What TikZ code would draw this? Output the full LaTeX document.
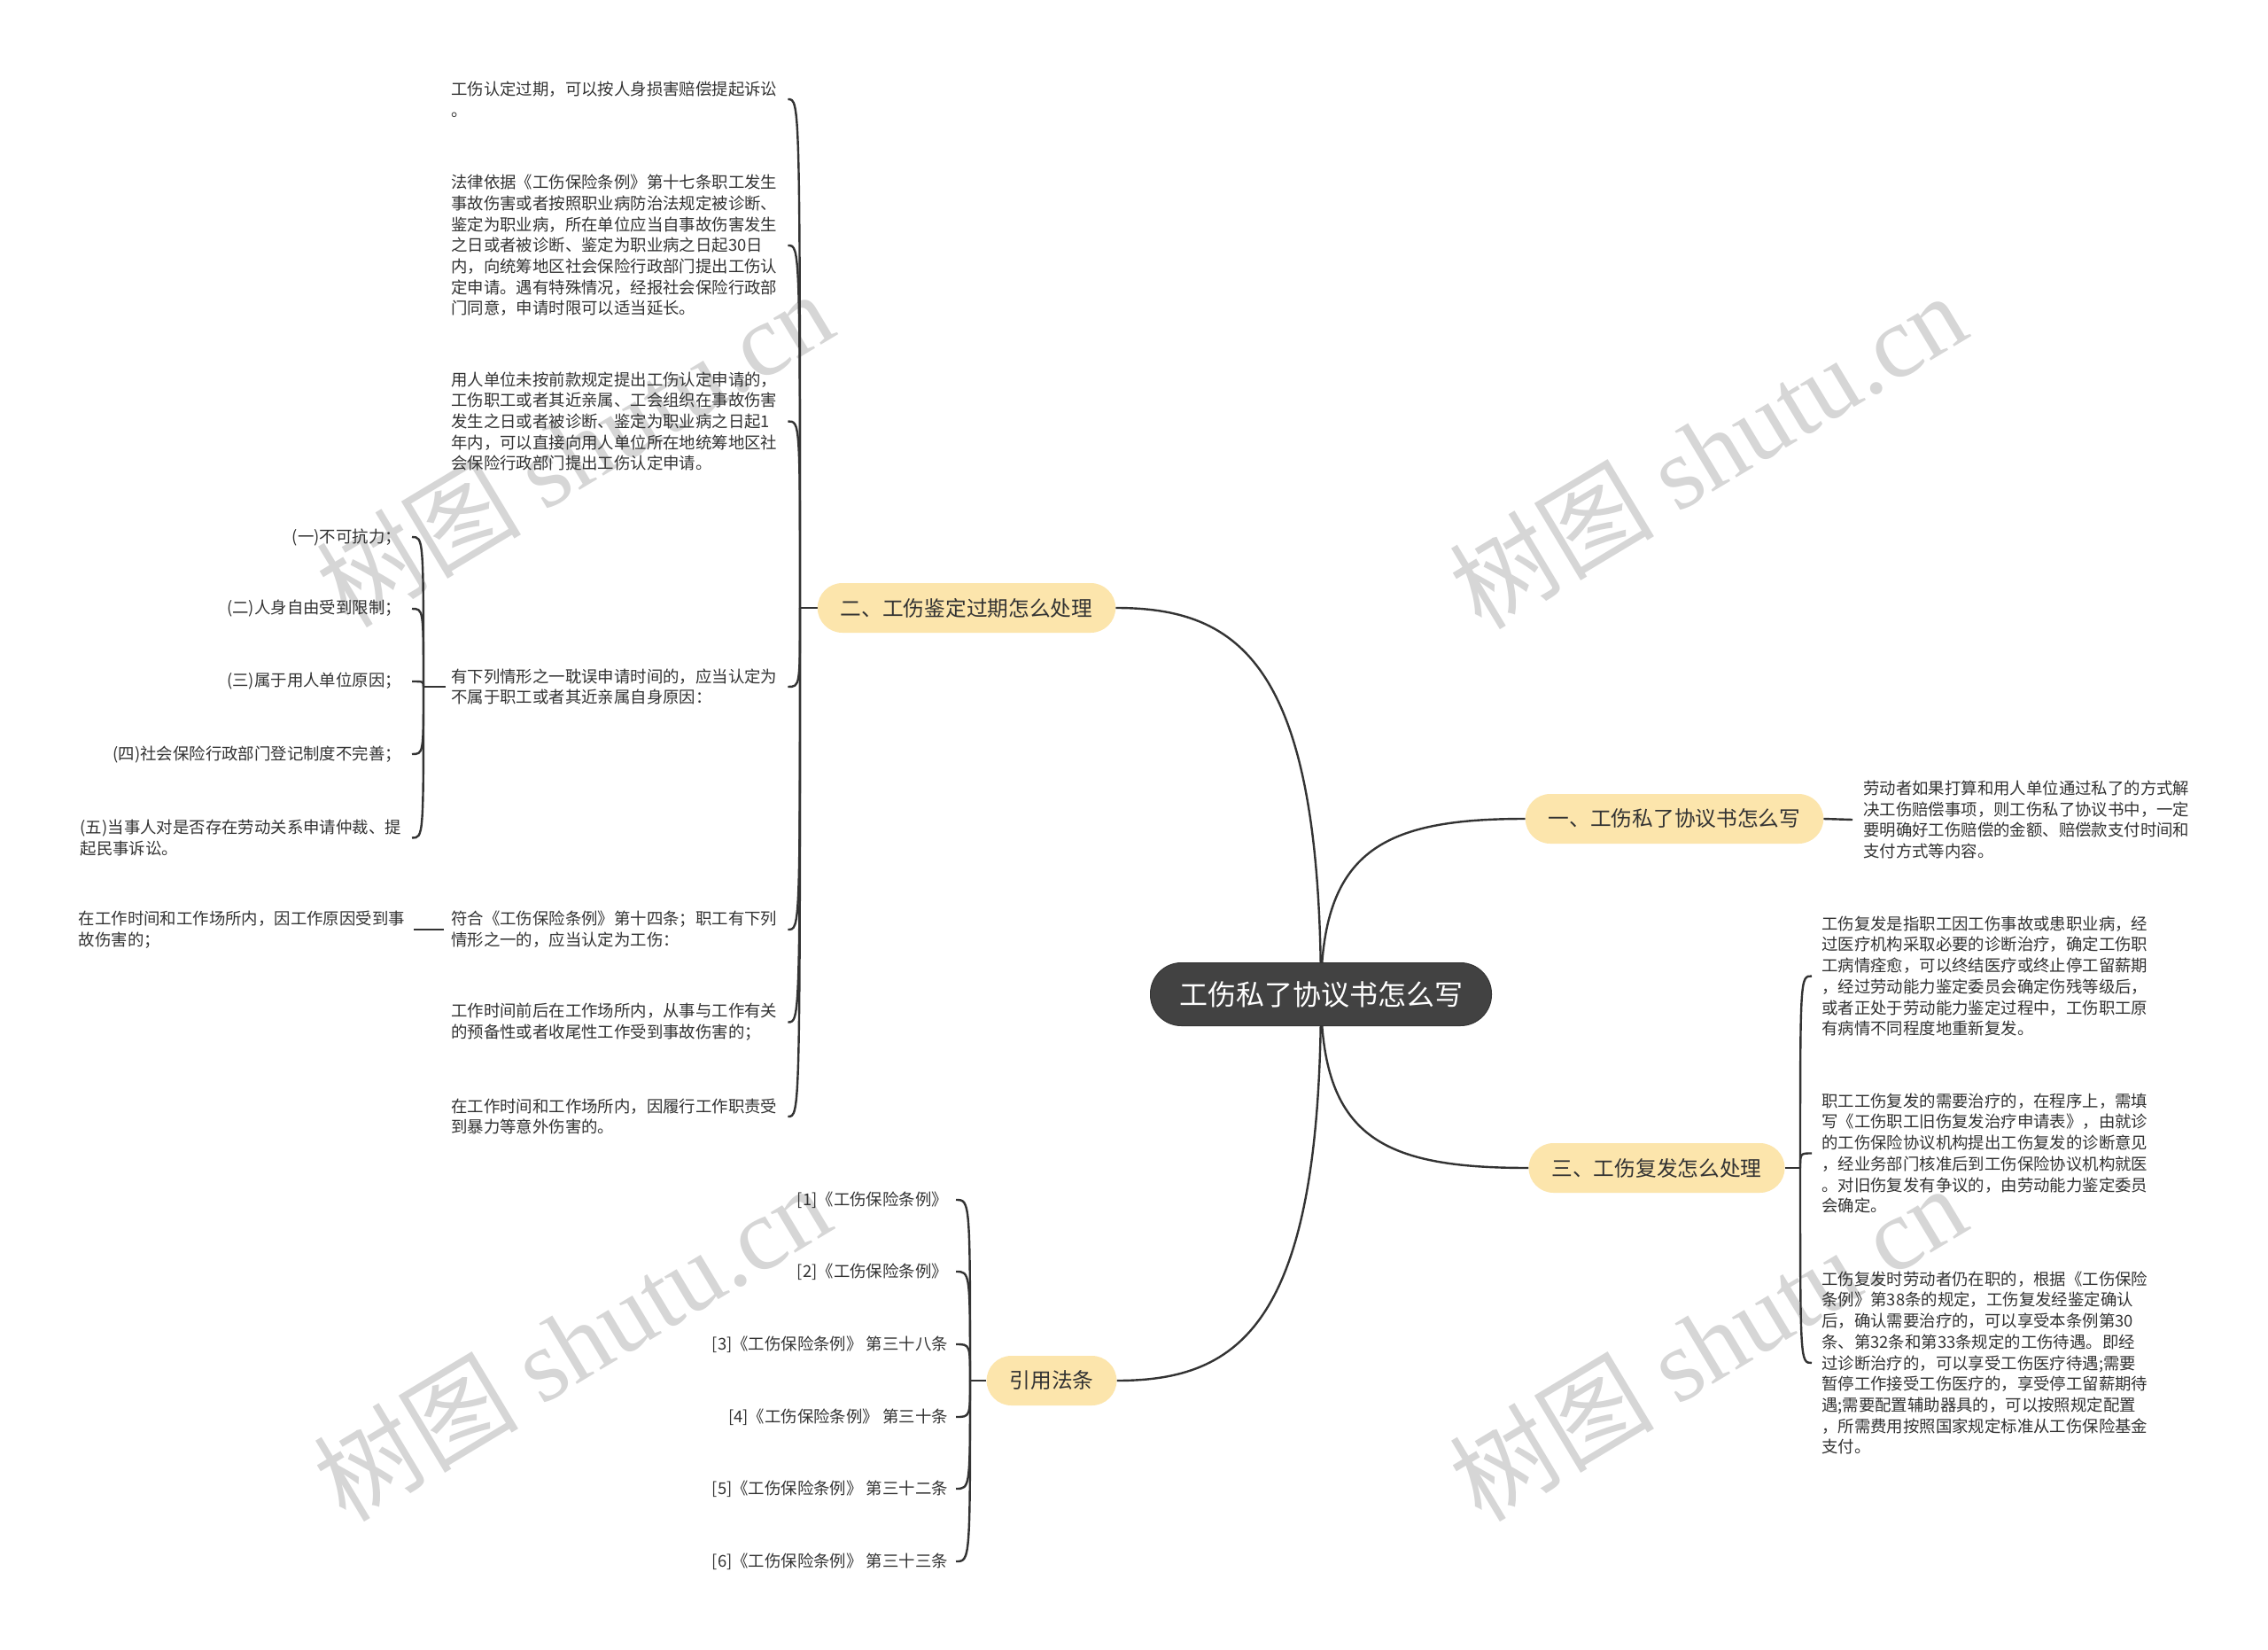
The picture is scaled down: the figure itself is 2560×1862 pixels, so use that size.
\documentclass[tikz,border=0pt]{standalone}
\usepackage{fontspec}
\setmainfont{Noto Sans CJK SC}
\newfontfamily\wmserif{Liberation Serif}
\usetikzlibrary{backgrounds}
\definecolor{branchfill}{HTML}{FCE5AC}
\definecolor{rootfill}{HTML}{424242}
\definecolor{linec}{HTML}{333333}
\definecolor{textc}{HTML}{333333}
\definecolor{wm}{HTML}{D6D6D6}
\newcommand\brkL[2]{\draw[conn] (#1) .. controls (#1 |- #2.east) and (#1 |- #2.east) .. ([xshift=9pt]#2.east);}
\newcommand\brkLc[2]{\draw[conn] (#1) .. controls (#1 |- #2.east) and (#1 |- #2.east) .. ([xshift=12pt]#2.east);}
\newcommand\brkR[2]{\draw[conn] (#1) .. controls (#1 |- #2.west) and (#1 |- #2.west) .. ([xshift=-11pt]#2.west);}
\begin{document}
\begin{tikzpicture}[x=1pt,y=-1pt,
  leaf/.style={inner sep=0pt, font=\fontsize{18.4}{23.7}\selectfont, text=textc, align=left},
  leafw/.style={leaf, text width=371pt},
  branch/.style={fill=branchfill, rounded corners=28pt, minimum height=56pt, inner xsep=26pt, inner ysep=0pt, font=\fontsize{23.7}{28}\selectfont, text=textc},
  rootnode/.style={fill=rootfill, draw=rootfill!80!black, line width=1pt, rounded corners=35pt, minimum height=71pt, minimum width=385pt, inner xsep=20pt, font=\fontsize{32}{38}\selectfont, text=white},
  conn/.style={draw=linec, line width=2.4pt},
  wmark/.style={text=wm, rotate=31, font=\fontsize{116}{120}\selectfont}
]
\useasboundingbox (0,0) rectangle (2560,1862);

% root and branches
\node[rootnode] (root) at (1491,1122) {工伤私了协议书怎么写};
\node[branch] (b2) at (1091,686) {二、工伤鉴定过期怎么处理};
\node[branch] (b1) at (1890,924) {一、工伤私了协议书怎么写};
\node[branch] (b3) at (1870,1318) {三、工伤复发怎么处理};
\node[branch] (b4) at (1187,1558) {引用法条};

% leaves of branch 二
\node[leafw, anchor=west] (a1) at (509,112) {工伤认定过期，可以按人身损害赔偿提起诉讼\\。};
\node[leafw, anchor=west] (a2) at (509,277) {法律依据《工伤保险条例》第十七条职工发生\\事故伤害或者按照职业病防治法规定被诊断、\\鉴定为职业病，所在单位应当自事故伤害发生\\之日或者被诊断、鉴定为职业病之日起30日\\内，向统筹地区社会保险行政部门提出工伤认\\定申请。遇有特殊情况，经报社会保险行政部\\门同意，申请时限可以适当延长。};
\node[leafw, anchor=west] (a3) at (509,475.5) {用人单位未按前款规定提出工伤认定申请的，\\工伤职工或者其近亲属、工会组织在事故伤害\\发生之日或者被诊断、鉴定为职业病之日起1\\年内，可以直接向用人单位所在地统筹地区社\\会保险行政部门提出工伤认定申请。};
\node[leafw, anchor=west] (a4) at (509,775) {有下列情形之一耽误申请时间的，应当认定为\\不属于职工或者其近亲属自身原因：};
\node[leafw, anchor=west] (a5) at (509,1049) {符合《工伤保险条例》第十四条；职工有下列\\情形之一的，应当认定为工伤：};
\node[leafw, anchor=west] (a6) at (509,1153.5) {工作时间前后在工作场所内，从事与工作有关\\的预备性或者收尾性工作受到事故伤害的；};
\node[leafw, anchor=west] (a7) at (509,1260) {在工作时间和工作场所内，因履行工作职责受\\到暴力等意外伤害的。};

% children of a4
\node[leaf, anchor=east] (c1) at (453,606) {(一)不可抗力；};
\node[leaf, anchor=east] (c2) at (453,687) {(二)人身自由受到限制；};
\node[leaf, anchor=east] (c3) at (453,769) {(三)属于用人单位原因；};
\node[leaf, anchor=east] (c4) at (453,851) {(四)社会保险行政部门登记制度不完善；};
\node[leaf, anchor=east] (c5) at (453,945.5) {(五)当事人对是否存在劳动关系申请仲裁、提\\起民事诉讼。};
% child of a5
\node[leaf, anchor=east] (d1) at (457,1049) {在工作时间和工作场所内，因工作原因受到事\\故伤害的；};

% leaf of branch 一
\node[leaf, anchor=west] (e1) at (2103,925) {劳动者如果打算和用人单位通过私了的方式解\\决工伤赔偿事项，则工伤私了协议书中，一定\\要明确好工伤赔偿的金额、赔偿款支付时间和\\支付方式等内容。};

% leaves of branch 三
\node[leafw, anchor=west] (t1) at (2056,1101.5) {工伤复发是指职工因工伤事故或患职业病，经\\过医疗机构采取必要的诊断治疗，确定工伤职\\工病情痊愈，可以终结医疗或终止停工留薪期\\，经过劳动能力鉴定委员会确定伤残等级后，\\或者正处于劳动能力鉴定过程中，工伤职工原\\有病情不同程度地重新复发。};
\node[leafw, anchor=west] (t2) at (2056,1301.5) {职工工伤复发的需要治疗的，在程序上，需填\\写《工伤职工旧伤复发治疗申请表》，由就诊\\的工伤保险协议机构提出工伤复发的诊断意见\\，经业务部门核准后到工伤保险协议机构就医\\。对旧伤复发有争议的，由劳动能力鉴定委员\\会确定。};
\node[leafw, anchor=west] (t3) at (2056,1538) {工伤复发时劳动者仍在职的，根据《工伤保险\\条例》第38条的规定，工伤复发经鉴定确认\\后，确认需要治疗的，可以享受本条例第30\\条、第32条和第33条规定的工伤待遇。即经\\过诊断治疗的，可以享受工伤医疗待遇;需要\\暂停工作接受工伤医疗的，享受停工留薪期待\\遇;需要配置辅助器具的，可以按照规定配置\\，所需费用按照国家规定标准从工伤保险基金\\支付。};

% leaves of 引用法条
\node[leaf, anchor=east] (r1) at (1070,1354) {[1]《工伤保险条例》};
\node[leaf, anchor=east] (r2) at (1070,1435) {[2]《工伤保险条例》};
\node[leaf, anchor=east] (r3) at (1070,1517) {[3]《工伤保险条例》 第三十八条};
\node[leaf, anchor=east] (r4) at (1070,1599) {[4]《工伤保险条例》 第三十条};
\node[leaf, anchor=east] (r5) at (1070,1680) {[5]《工伤保险条例》 第三十二条};
\node[leaf, anchor=east] (r6) at (1070,1762) {[6]《工伤保险条例》 第三十三条};

\coordinate (j2) at (903,686);
\coordinate (ja4) at (478,775);
\coordinate (j3) at (2032,1318);
\coordinate (j4) at (1095,1558);

\begin{scope}[on background layer]
  \fill[white] (0,0) rectangle (2560,1862);
  % watermarks
  \node[wmark] (w1) at (648,506) {树图 {\wmserif shutu.cn}};
  \node[wmark] (w2) at (1927,508) {树图 {\wmserif shutu.cn}};
  \node[wmark] (w3) at (645,1515) {树图 {\wmserif shutu.cn}};
  \node[wmark] (w4) at (1927,1515) {树图 {\wmserif shutu.cn}};
  % root connectors
  \draw[conn] (root.center) .. controls (1491,750) and (1400,686) .. (b2.east);
  \draw[conn] (root.center) .. controls (1491,960) and (1560,924) .. (b1.west);
  \draw[conn] (root.center) .. controls (1491,1284) and (1560,1318) .. (b3.west);
  \draw[conn] (root.center) .. controls (1491,1494) and (1400,1558) .. (b4.east);
  % branch 二
  \draw[conn] (b2.west) -- (j2);
  \brkL{j2}{a1}\brkL{j2}{a2}\brkL{j2}{a3}\brkL{j2}{a4}\brkL{j2}{a5}\brkL{j2}{a6}\brkL{j2}{a7}
  \draw[conn] ([xshift=-6pt]a4.west) -- (ja4);
  \brkLc{ja4}{c1}\brkLc{ja4}{c2}\brkLc{ja4}{c3}\brkLc{ja4}{c4}\brkLc{ja4}{c5}
  \draw[conn] ([xshift=-8pt]a5.west) -- ([xshift=10pt]d1.east);
  % branch 一
  \draw[conn] (b1.east) -- ([xshift=-12pt]e1.west);
  % branch 三
  \draw[conn] (b3.east) -- (j3);
  \brkR{j3}{t1}\brkR{j3}{t2}\brkR{j3}{t3}
  % 引用法条
  \draw[conn] (b4.west) -- (j4);
  \brkL{j4}{r1}\brkL{j4}{r2}\brkL{j4}{r3}\brkL{j4}{r4}\brkL{j4}{r5}\brkL{j4}{r6}
\end{scope}
\end{tikzpicture}
\end{document}
